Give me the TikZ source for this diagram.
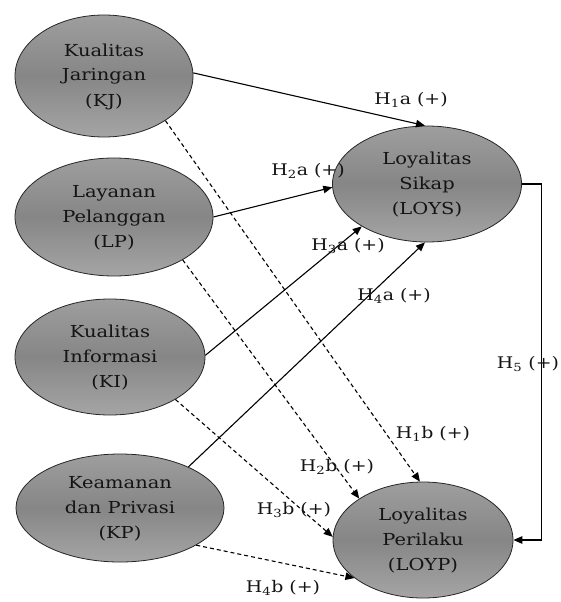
\documentclass[tikz,border=0pt]{standalone}
\usepackage{fontspec}
\setmainfont{DejaVu Serif}
\usepackage{graphicx}
\usetikzlibrary{shapes.geometric,arrows.meta}
\definecolor{eltop}{RGB}{158,158,158}
\definecolor{elmid}{RGB}{134,134,134}
\definecolor{elbot}{RGB}{165,165,165}
\definecolor{txt}{RGB}{20,20,20}
\newcommand\stretchtxt[1]{\scalebox{1.18}[1]{#1}}
\newcommand\threel[3]{\stretchtxt{\begin{tabular}{@{}c@{}}#1\\#2\\#3\end{tabular}}}
\begin{document}
\begin{tikzpicture}[x=1pt,y=-1pt,
  var/.style={ellipse,draw=black!85,line width=0.8pt,inner sep=0pt,
    top color=eltop,bottom color=elbot,middle color=elmid,
    text=txt,font=\fontsize{16.5}{25}\selectfont},
  hyp/.style={font=\fontsize{16}{20}\selectfont,text=txt,inner sep=0pt},
  conn/.style={line width=1.1pt,-{Triangle[length=9pt,width=7.5pt]}},
  dconn/.style={conn,dash pattern=on 4pt off 3pt}]
\useasboundingbox (0,0) rectangle (561,602);
\node[var,minimum width=178pt,minimum height=122pt] (KJ) at (104,76) {\threel{Kualitas}{Jaringan}{(KJ)}};
\node[var,minimum width=198pt,minimum height=118pt] (LP) at (114,217) {\threel{Layanan}{Pelanggan}{(LP)}};
\node[var,minimum width=190pt,minimum height=116pt] (KI) at (110,357) {\threel{Kualitas}{Informasi}{(KI)}};
\node[var,minimum width=208pt,minimum height=108pt] (KP) at (120,508) {\threel{Keamanan}{dan Privasi}{(KP)}};
\node[var,minimum width=189pt,minimum height=116pt] (LOYS) at (427,184) {\threel{Loyalitas}{Sikap}{(LOYS)}};
\node[var,minimum width=180pt,minimum height=116pt] (LOYP) at (423,540) {\threel{Loyalitas}{Perilaku}{(LOYP)}};
% solid connectors
\draw[conn] (KJ.2) -- (LOYS.92);
\draw[conn] (LP.0) -- (LOYS.182);
\draw[conn] (KI.1) -- (LOYS.213);
\draw[conn] (KP.31) -- (LOYS.268);
% dashed connectors
\draw[dconn] (KJ.324) -- (LOYP.93);
\draw[dconn] (LP.328) -- (LOYP.147);
\draw[dconn] (KI.327) -- (LOYP.178);
\draw[dconn] (KP.334) -- (LOYP.209);
% H5
\draw[conn] (LOYS.east) -- ++(20,0) |- (LOYP.east);
% labels
\node[hyp] (l1a) at (411,100) {\stretchtxt{H\textsubscript{1}a (+)}};
\node[hyp] (l2a) at (308,171) {\stretchtxt{H\textsubscript{2}a (+)}};
\node[hyp] (l3a) at (348,246) {\stretchtxt{H\textsubscript{3}a (+)}};
\node[hyp] (l4a) at (394,296) {\stretchtxt{H\textsubscript{4}a (+)}};
\node[hyp] (l5) at (528,364) {\stretchtxt{H\textsubscript{5} (+)}};
\node[hyp] (l1b) at (433,434) {\stretchtxt{H\textsubscript{1}b (+)}};
\node[hyp] (l2b) at (337,467) {\stretchtxt{H\textsubscript{2}b (+)}};
\node[hyp] (l3b) at (294,510) {\stretchtxt{H\textsubscript{3}b (+)}};
\node[hyp] (l4b) at (283,588) {\stretchtxt{H\textsubscript{4}b (+)}};
\end{tikzpicture}
\end{document}
